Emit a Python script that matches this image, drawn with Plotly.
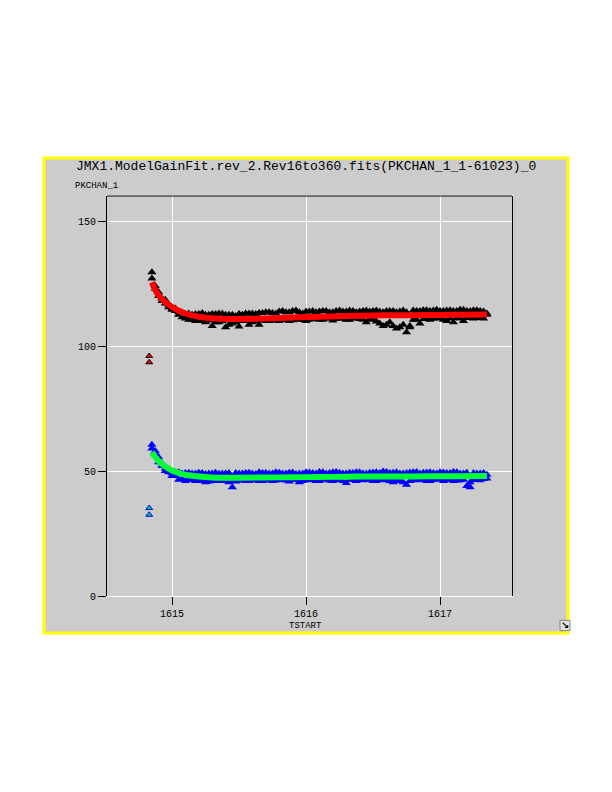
import plotly.graph_objects as go

# ---------------- data ----------------
tstart = [1614.850, 1614.875, 1614.900, 1614.925, 1614.950, 1614.975,
          1615.000, 1615.025, 1615.050, 1615.075, 1615.100, 1615.125, 1615.150, 1615.175,
          1615.200, 1615.225, 1615.250, 1615.275, 1615.300, 1615.325, 1615.350, 1615.375,
          1615.400, 1615.425, 1615.450, 1615.475, 1615.500, 1615.525, 1615.550, 1615.575,
          1615.600, 1615.625, 1615.650, 1615.675, 1615.700, 1615.725, 1615.750, 1615.775,
          1615.800, 1615.825, 1615.850, 1615.875, 1615.900, 1615.925, 1615.950, 1615.975,
          1616.000, 1616.025, 1616.050, 1616.075, 1616.100, 1616.125, 1616.150, 1616.175,
          1616.200, 1616.225, 1616.250, 1616.275, 1616.300, 1616.325, 1616.350, 1616.375,
          1616.400, 1616.425, 1616.450, 1616.475, 1616.500, 1616.525, 1616.550, 1616.575,
          1616.600, 1616.625, 1616.650, 1616.675, 1616.700, 1616.725, 1616.750, 1616.775,
          1616.800, 1616.825, 1616.850, 1616.875, 1616.900, 1616.925, 1616.950, 1616.975,
          1617.000, 1617.025, 1617.050, 1617.075, 1617.100, 1617.125, 1617.150, 1617.175,
          1617.200, 1617.225, 1617.250, 1617.275, 1617.300, 1617.325, 1617.350]

pk_upper_a = [129.5, 124.0, 121.5, 119.0, 117.0, 116.5,
              115.0, 114.0, 112.5, 113.5, 111.0, 113.0, 110.5, 112.8,
              110.0, 113.2, 109.5, 112.5, 108.0, 112.8, 109.5, 113.0,
              107.5, 112.5, 109.0, 112.0, 107.8, 112.5, 110.0, 113.0,
              109.5, 112.8, 108.5, 113.2, 110.0, 113.5, 110.2, 113.0,
              110.0, 114.0, 110.5, 113.5, 110.3, 114.2, 110.5, 113.0,
              110.0, 113.8, 110.8, 113.5, 110.5, 114.0, 111.0, 113.5,
              110.2, 114.0, 111.0, 113.8, 110.5, 114.2, 111.0, 113.5,
              110.8, 114.0, 109.5, 113.8, 110.5, 114.2, 109.0, 113.5,
              108.5, 114.0, 108.0, 113.5, 107.5, 114.2, 105.5, 108.0,
              110.5, 114.0, 109.0, 114.3, 111.0, 114.0, 111.0, 114.5,
              111.2, 114.0, 110.0, 114.3, 109.5, 114.0, 111.0, 114.5,
              111.2, 114.0, 111.0, 114.3, 111.2, 113.8, 112.5]

pk_upper_b = [127.0, 123.0, 120.0, 118.0, 118.5, 115.5,
              114.5, 115.0, 113.5, 111.5, 112.8, 110.5, 112.5, 110.0,
              112.8, 110.0, 112.5, 110.2, 112.8, 109.5, 113.0, 110.0,
              112.5, 108.5, 112.5, 109.5, 112.8, 110.0, 113.0, 108.5,
              113.0, 110.0, 113.2, 110.2, 113.5, 110.0, 113.2, 110.5,
              113.8, 110.5, 113.5, 110.0, 114.0, 110.8, 113.5, 110.5,
              113.8, 110.5, 114.0, 111.0, 113.8, 110.5, 114.0, 111.0,
              113.5, 110.8, 114.2, 111.0, 113.8, 110.5, 114.0, 111.2,
              113.8, 110.5, 114.2, 110.8, 114.0, 109.8, 113.8, 108.0,
              114.0, 109.5, 114.0, 107.0, 113.8, 108.5, 113.5, 107.5,
              114.2, 110.5, 114.0, 110.8, 114.3, 110.5, 114.2, 111.0,
              114.0, 110.5, 114.2, 111.0, 114.0, 111.2, 114.5, 110.0,
              114.0, 111.5, 114.3, 111.2, 114.0, 111.0, 113.0]

pk_lower_a = [60.5, 57.0, 55.5, 52.0, 51.0, 49.5,
              49.0, 48.0, 49.5, 46.8, 49.2, 46.5, 49.0, 46.0,
              49.3, 46.2, 48.8, 45.8, 49.0, 46.0, 48.9, 46.0,
              49.0, 45.5, 43.5, 49.2, 46.2, 49.0, 46.0, 49.3,
              46.5, 48.8, 46.0, 49.2, 46.3, 49.0, 46.0, 49.5,
              46.5, 49.0, 46.2, 49.3, 46.5, 48.8, 45.5, 49.0,
              46.3, 49.4, 46.5, 49.0, 46.0, 49.5, 46.8, 49.2,
              46.0, 49.6, 46.5, 49.0, 45.2, 49.3, 46.5, 49.5,
              46.8, 49.0, 46.5, 49.3, 46.0, 49.5, 46.5, 49.8,
              46.3, 49.2, 45.5, 49.5, 46.0, 49.0, 44.5, 49.4,
              46.8, 49.6, 46.5, 49.3, 46.0, 49.5, 46.5, 49.0,
              46.8, 49.4, 46.5, 49.2, 46.0, 49.5, 46.3, 49.0,
              44.0, 45.5, 49.2, 46.5, 49.0, 46.8, 48.5]

pk_lower_b = [59.0, 58.0, 53.5, 53.0, 50.0, 50.5,
              48.0, 49.5, 46.5, 49.0, 46.0, 49.3, 46.5, 49.0,
              46.0, 49.2, 45.5, 49.0, 46.2, 49.3, 46.0, 49.0,
              46.5, 49.2, 46.0, 45.8, 49.0, 46.5, 49.2, 46.0,
              49.0, 46.3, 49.5, 46.0, 49.2, 46.5, 49.0, 46.2,
              49.3, 46.5, 49.0, 45.8, 49.4, 46.5, 49.0, 46.0,
              49.5, 46.5, 49.2, 46.0, 49.6, 46.5, 49.0, 46.2,
              49.5, 46.5, 49.3, 46.0, 49.0, 46.5, 49.2, 46.0,
              49.5, 46.3, 49.0, 46.5, 49.4, 46.0, 49.2, 46.5,
              49.6, 46.0, 49.3, 46.5, 49.0, 45.5, 49.2, 46.0,
              49.5, 46.3, 49.0, 46.5, 49.4, 46.0, 49.2, 46.5,
              49.5, 46.0, 49.2, 46.5, 49.6, 46.2, 49.0, 46.5,
              49.3, 43.5, 46.5, 49.0, 46.3, 49.2, 47.0]

fit_t = [1614.85, 1614.875, 1614.9, 1614.95, 1615.0, 1615.05, 1615.1, 1615.2,
         1615.3, 1615.4, 1615.5, 1615.7, 1615.9, 1616.1, 1616.3, 1616.5,
         1616.7, 1616.9, 1617.1, 1617.35]
fit_upper = [125.5, 122.5, 120.3, 117.6, 115.6, 114.1, 113.0, 111.7,
             111.1, 110.8, 110.8, 111.0, 111.4, 111.7, 112.0, 112.2,
             112.3, 112.4, 112.5, 112.6]
fit_lower = [57.5, 55.6, 54.0, 51.8, 50.2, 49.2, 48.5, 47.8,
             47.4, 47.3, 47.3, 47.4, 47.5, 47.6, 47.7, 47.8,
             47.8, 47.9, 47.9, 48.0]

outlier_t = [1614.83, 1614.83]
outlier_upper = [96.0, 93.5]
outlier_lower = [35.2, 32.5]

x_ticks = [1615, 1616, 1617]
y_ticks = [0, 50, 100, 150]

title_text = "JMX1.ModelGainFit.rev_2.Rev16to360.fits(PKCHAN_1_1-61023)_0"
y_label = "PKCHAN_1"
x_label = "TSTART"

# ---------------- figure ----------------
mono = "Liberation Mono"
fig = go.Figure()

for ys in (pk_upper_a, pk_upper_b):
    fig.add_trace(go.Scatter(x=tstart, y=ys, mode="markers",
                             marker=dict(symbol="triangle-up", size=8, color="black"),
                             showlegend=False))
for ys in (pk_lower_a, pk_lower_b):
    fig.add_trace(go.Scatter(x=tstart, y=ys, mode="markers",
                             marker=dict(symbol="triangle-up", size=8, color="#0000ff"),
                             showlegend=False))
fig.add_trace(go.Scatter(x=outlier_t, y=outlier_upper, mode="markers",
                         marker=dict(symbol="triangle-up", size=6, color="#ff0000",
                                     line=dict(color="black", width=1)),
                         showlegend=False))
fig.add_trace(go.Scatter(x=outlier_t, y=outlier_lower, mode="markers",
                         marker=dict(symbol="triangle-up", size=6, color="#00cc66",
                                     line=dict(color="#0000ff", width=1)),
                         showlegend=False))
fig.add_trace(go.Scatter(x=fit_t, y=fit_upper, mode="lines",
                         line=dict(color="#ff0000", width=6, shape="spline"),
                         showlegend=False))
fig.add_trace(go.Scatter(x=fit_t, y=fit_lower, mode="lines",
                         line=dict(color="#00ff33", width=6, shape="spline"),
                         showlegend=False))

panel = dict(x0=-0.1556, x1=1.1383, y0=-0.0925, y1=1.095)

fig.update_layout(
    width=604, height=784,
    margin=dict(l=99, r=100, t=188, b=196),
    paper_bgcolor="white",
    plot_bgcolor="#cccccc",
    showlegend=False,
    font=dict(family=mono, size=9, color="black"),
    xaxis=dict(range=[1614.515, 1617.537], tickvals=x_ticks,
               ticktext=[str(v) for v in x_ticks],
               showgrid=True, gridcolor="white", gridwidth=1,
               zeroline=False, showline=True, linecolor="white", linewidth=1,
               mirror=True,
               ticks="outside", ticklen=8, tickcolor="black", tickwidth=1,
               ticklabelstandoff=0,
               tickfont=dict(family=mono, size=10)),
    yaxis=dict(range=[0, 160], tickvals=y_ticks,
               ticktext=[str(v) for v in y_ticks],
               showgrid=True, gridcolor="white", gridwidth=1,
               zeroline=True, zerolinecolor="white", zerolinewidth=1,
               showline=True, linecolor="black", linewidth=1, mirror=True,
               ticks="outside", ticklen=8, tickcolor="black", tickwidth=1,
               tickfont=dict(family=mono, size=10)),
    shapes=[
        dict(type="rect", xref="paper", yref="paper", layer="below",
             fillcolor="#cccccc", line=dict(color="#ffff00", width=3), **panel),
        dict(type="line", xref="paper", yref="paper", x0=0, x1=1, y0=1, y1=1,
             line=dict(color="black", width=1)),
        dict(type="rect", xref="paper", yref="paper", x0=1.1185, x1=1.1432,
             y0=-0.0865, y1=-0.061, fillcolor="#e0e0e0",
             line=dict(color="#888888", width=1)),
    ],
    annotations=[
        dict(text=title_text, xref="paper", yref="paper", x=0.492, y=1.073,
             showarrow=False, xanchor="center", yanchor="middle",
             font=dict(family=mono, size=13)),
        dict(text=y_label, xref="paper", yref="paper", x=-0.083, y=1.025,
             showarrow=False, xanchor="left", yanchor="middle",
             font=dict(family=mono, size=9)),
        dict(text=x_label, xref="paper", yref="paper", x=0.49, y=-0.058,
             showarrow=False, xanchor="center", yanchor="top",
             font=dict(family=mono, size=9)),
        dict(text="<b>↘</b>", xref="paper", yref="paper", x=1.1308, y=-0.074,
             showarrow=False, xanchor="center", yanchor="middle",
             font=dict(family="DejaVu Sans", size=10, color="black")),
    ],
)

fig.write_html("out.html")
